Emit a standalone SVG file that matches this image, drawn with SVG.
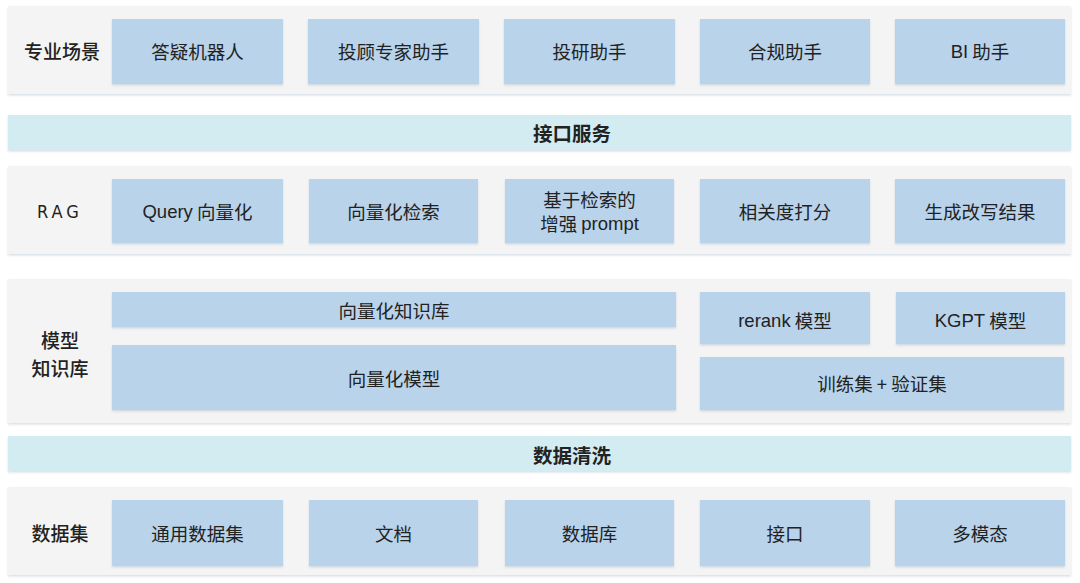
<svg xmlns="http://www.w3.org/2000/svg" width="1080" height="583" viewBox="0 0 1080 583">
<defs>
<filter id="sh" x="-5%" y="-20%" width="110%" height="150%">
<feDropShadow dx="0" dy="1.5" stdDeviation="1.2" flood-color="#8aa4bb" flood-opacity="0.35"/>
</filter>
<style>
.panel{fill:#f4f4f4;filter:url(#sh)}
.band{fill:#d3ecf2;filter:url(#sh)}
.box{fill:#b9d3ea;filter:url(#sh)}
text{font-family:"Noto Sans CJK SC","Liberation Sans",sans-serif;fill:#222;text-anchor:middle;dominant-baseline:central}
.t{font-size:18.5px}
.lbl{font-size:19px;font-weight:500}
.bt{font-size:19.5px;font-weight:700}
.lat{font-family:"Liberation Sans","Noto Sans CJK SC",sans-serif}
</style>
</defs>
<rect width="1080" height="583" fill="#ffffff"/>

<g id="row-scenarios">
<rect class="panel" x="8" y="6" width="1063" height="88"/>
<text class="lbl" x="62" y="50">专业场景</text>
<g id="n-qa"><rect class="box" x="112" y="19" width="171" height="65"/><text class="t" x="197.5" y="51">答疑机器人</text></g>
<g id="n-advisor"><rect class="box" x="308" y="19" width="171" height="65"/><text class="t" x="393.5" y="51">投顾专家助手</text></g>
<g id="n-research"><rect class="box" x="504" y="19" width="171" height="65"/><text class="t" x="589.5" y="51">投研助手</text></g>
<g id="n-compliance"><rect class="box" x="700" y="19" width="170" height="65"/><text class="t" x="785" y="51">合规助手</text></g>
<g id="n-bi"><rect class="box" x="895" y="19" width="170" height="65"/><text class="t" x="980" y="51"><tspan class="lat">BI</tspan> 助手</text></g>
</g>

<g id="band-api">
<rect class="band" x="8" y="115" width="1063" height="35"/>
<text class="bt" x="572" y="132">接口服务</text>
</g>

<g id="row-rag">
<rect class="panel" x="8" y="166" width="1063" height="88"/>
<text x="60" y="211" style="font-family:'DejaVu Sans Condensed','Liberation Sans',sans-serif;font-size:18px;font-weight:500;letter-spacing:4px;font-stretch:condensed">RAG</text>
<g id="n-query"><rect class="box" x="112" y="179" width="171" height="64"/><text class="t" x="197.5" y="211"><tspan class="lat">Query</tspan> 向量化</text></g>
<g id="n-search"><rect class="box" x="309" y="179" width="169" height="64"/><text class="t" x="393.5" y="211">向量化检索</text></g>
<g id="n-prompt"><rect class="box" x="505" y="179" width="169" height="64"/><text class="t" x="589.5" y="199">基于检索的</text><text class="t" x="589.5" y="223">增强 <tspan class="lat">prompt</tspan></text></g>
<g id="n-score"><rect class="box" x="700" y="179" width="170" height="64"/><text class="t" x="785" y="211">相关度打分</text></g>
<g id="n-gen"><rect class="box" x="895" y="179" width="170" height="64"/><text class="t" x="980" y="211">生成改写结果</text></g>
</g>

<g id="row-model">
<rect class="panel" x="8" y="279" width="1063" height="144"/>
<text class="lbl" x="60" y="339">模型</text>
<text class="lbl" x="60" y="367">知识库</text>
<g id="n-kb"><rect class="box" x="112" y="292" width="564" height="35"/><text class="t" x="394" y="310">向量化知识库</text></g>
<g id="n-vmodel"><rect class="box" x="112" y="345" width="564" height="65"/><text class="t" x="394" y="378">向量化模型</text></g>
<g id="n-rerank"><rect class="box" x="700" y="292" width="170" height="52"/><text class="t" x="785" y="320"><tspan class="lat">rerank</tspan> 模型</text></g>
<g id="n-kgpt"><rect class="box" x="896" y="292" width="169" height="52"/><text class="t" x="980.5" y="320"><tspan class="lat">KGPT</tspan> 模型</text></g>
<g id="n-train"><rect class="box" x="700" y="357" width="364" height="53"/><text class="t" x="882" y="383">训练集 + 验证集</text></g>
</g>

<g id="band-clean">
<rect class="band" x="8" y="436" width="1063" height="35"/>
<text class="bt" x="572" y="454">数据清洗</text>
</g>

<g id="row-data">
<rect class="panel" x="8" y="487" width="1063" height="88"/>
<text class="lbl" x="60" y="532">数据集</text>
<g id="n-general"><rect class="box" x="112" y="500" width="171" height="66"/><text class="t" x="197.5" y="533">通用数据集</text></g>
<g id="n-doc"><rect class="box" x="309" y="500" width="169" height="66"/><text class="t" x="393.5" y="533">文档</text></g>
<g id="n-db"><rect class="box" x="505" y="500" width="169" height="66"/><text class="t" x="589.5" y="533">数据库</text></g>
<g id="n-iface"><rect class="box" x="700" y="500" width="170" height="66"/><text class="t" x="785" y="533">接口</text></g>
<g id="n-multi"><rect class="box" x="895" y="500" width="170" height="66"/><text class="t" x="980" y="533">多模态</text></g>
</g>

<g id="connectors"/>
</svg>
